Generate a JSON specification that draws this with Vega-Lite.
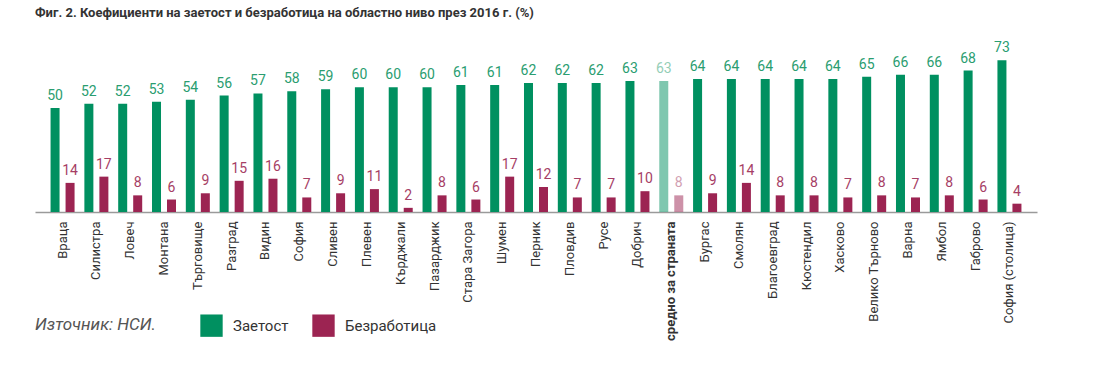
{
  "$schema": "https://vega.github.io/schema/vega-lite/v6.json",
  "autosize": "none",
  "width": 1002,
  "height": 156,
  "padding": {"left": 35, "top": 56, "right": 63, "bottom": 160},
  "background": "white",
  "config": {
    "font": "Roboto",
    "view": {"stroke": null}
  },
  "title": {
    "text": "Фиг. 2. Коефициенти на заетост и безработица на областно ниво през 2016 г. (%)",
    "anchor": "start",
    "frame": "group",
    "fontSize": 13,
    "fontWeight": "bold",
    "color": "#333333",
    "offset": 21
  },
  "data": {
    "values": [
      {"region": "Враца", "series": "Заетост", "value": 50},
      {"region": "Враца", "series": "Безработица", "value": 14},
      {"region": "Силистра", "series": "Заетост", "value": 52},
      {"region": "Силистра", "series": "Безработица", "value": 17},
      {"region": "Ловеч", "series": "Заетост", "value": 52},
      {"region": "Ловеч", "series": "Безработица", "value": 8},
      {"region": "Монтана", "series": "Заетост", "value": 53},
      {"region": "Монтана", "series": "Безработица", "value": 6},
      {"region": "Търговище", "series": "Заетост", "value": 54},
      {"region": "Търговище", "series": "Безработица", "value": 9},
      {"region": "Разград", "series": "Заетост", "value": 56},
      {"region": "Разград", "series": "Безработица", "value": 15},
      {"region": "Видин", "series": "Заетост", "value": 57},
      {"region": "Видин", "series": "Безработица", "value": 16},
      {"region": "София", "series": "Заетост", "value": 58},
      {"region": "София", "series": "Безработица", "value": 7},
      {"region": "Сливен", "series": "Заетост", "value": 59},
      {"region": "Сливен", "series": "Безработица", "value": 9},
      {"region": "Плевен", "series": "Заетост", "value": 60},
      {"region": "Плевен", "series": "Безработица", "value": 11},
      {"region": "Кърджали", "series": "Заетост", "value": 60},
      {"region": "Кърджали", "series": "Безработица", "value": 2},
      {"region": "Пазарджик", "series": "Заетост", "value": 60},
      {"region": "Пазарджик", "series": "Безработица", "value": 8},
      {"region": "Стара Загора", "series": "Заетост", "value": 61},
      {"region": "Стара Загора", "series": "Безработица", "value": 6},
      {"region": "Шумен", "series": "Заетост", "value": 61},
      {"region": "Шумен", "series": "Безработица", "value": 17},
      {"region": "Перник", "series": "Заетост", "value": 62},
      {"region": "Перник", "series": "Безработица", "value": 12},
      {"region": "Пловдив", "series": "Заетост", "value": 62},
      {"region": "Пловдив", "series": "Безработица", "value": 7},
      {"region": "Русе", "series": "Заетост", "value": 62},
      {"region": "Русе", "series": "Безработица", "value": 7},
      {"region": "Добрич", "series": "Заетост", "value": 63},
      {"region": "Добрич", "series": "Безработица", "value": 10},
      {"region": "средно за страната", "series": "Заетост", "value": 63},
      {"region": "средно за страната", "series": "Безработица", "value": 8},
      {"region": "Бургас", "series": "Заетост", "value": 64},
      {"region": "Бургас", "series": "Безработица", "value": 9},
      {"region": "Смолян", "series": "Заетост", "value": 64},
      {"region": "Смолян", "series": "Безработица", "value": 14},
      {"region": "Благоевград", "series": "Заетост", "value": 64},
      {"region": "Благоевград", "series": "Безработица", "value": 8},
      {"region": "Кюстендил", "series": "Заетост", "value": 64},
      {"region": "Кюстендил", "series": "Безработица", "value": 8},
      {"region": "Хасково", "series": "Заетост", "value": 64},
      {"region": "Хасково", "series": "Безработица", "value": 7},
      {"region": "Велико Търново", "series": "Заетост", "value": 65},
      {"region": "Велико Търново", "series": "Безработица", "value": 8},
      {"region": "Варна", "series": "Заетост", "value": 66},
      {"region": "Варна", "series": "Безработица", "value": 7},
      {"region": "Ямбол", "series": "Заетост", "value": 66},
      {"region": "Ямбол", "series": "Безработица", "value": 8},
      {"region": "Габрово", "series": "Заетост", "value": 68},
      {"region": "Габрово", "series": "Безработица", "value": 6},
      {"region": "София (столица)", "series": "Заетост", "value": 73},
      {"region": "София (столица)", "series": "Безработица", "value": 4}
    ]
  },
  "encoding": {
    "x": {
      "field": "region",
      "type": "nominal",
      "sort": null,
      "scale": {"paddingInner": 0.29, "paddingOuter": 0.46},
      "axis": {
        "title": null,
        "labelAngle": -90,
        "labelFontSize": 13,
        "labelColor": "#333333",
        "labelPadding": 9,
        "labelFontWeight": {"condition": {"test": "datum.value === 'средно за страната'", "value": "bold"}, "value": "normal"},
        "ticks": false,
        "domainColor": "#9a9a9a",
        "domainWidth": 1.5
      }
    },
    "xOffset": {
      "field": "series",
      "type": "nominal",
      "sort": ["Заетост", "Безработица"],
      "scale": {"paddingInner": 0.4, "paddingOuter": 0}
    },
    "y": {
      "field": "value",
      "type": "quantitative",
      "scale": {"domain": [0, 75]},
      "axis": null
    },
    "opacity": {
      "condition": {"test": "datum.region === 'средно за страната'", "value": 0.5},
      "value": 1
    }
  },
  "layer": [
    {
      "mark": {"type": "bar"},
      "encoding": {
        "color": {
          "field": "series",
          "type": "nominal",
          "sort": ["Заетост", "Безработица"],
          "scale": {"domain": ["Заетост", "Безработица"], "range": ["#009060", "#9c2452"]},
          "legend": {
            "title": "Източник: НСИ.",
            "titleOrient": "left",
            "titleFontStyle": "italic",
            "titleFontWeight": "normal",
            "titleFontSize": 17,
            "titleColor": "#555555",
            "titlePadding": 44,
            "orient": "none",
            "legendX": 0,
            "legendY": 258,
            "direction": "horizontal",
            "symbolType": "square",
            "symbolSize": 500,
            "symbolStrokeWidth": 0,
            "symbolOpacity": 1,
            "labelFontSize": 15,
            "labelColor": "#333333",
            "labelOffset": 10,
            "columnPadding": 23
          }
        }
      }
    },
    {
      "mark": {"type": "text", "baseline": "bottom", "dy": -5, "fontSize": 14},
      "encoding": {
        "text": {"field": "value", "type": "quantitative"},
        "color": {
          "condition": {"test": "datum.series === 'Заетост'", "value": "#2a9d70"},
          "value": "#a63e65"
        }
      }
    }
  ]
}
